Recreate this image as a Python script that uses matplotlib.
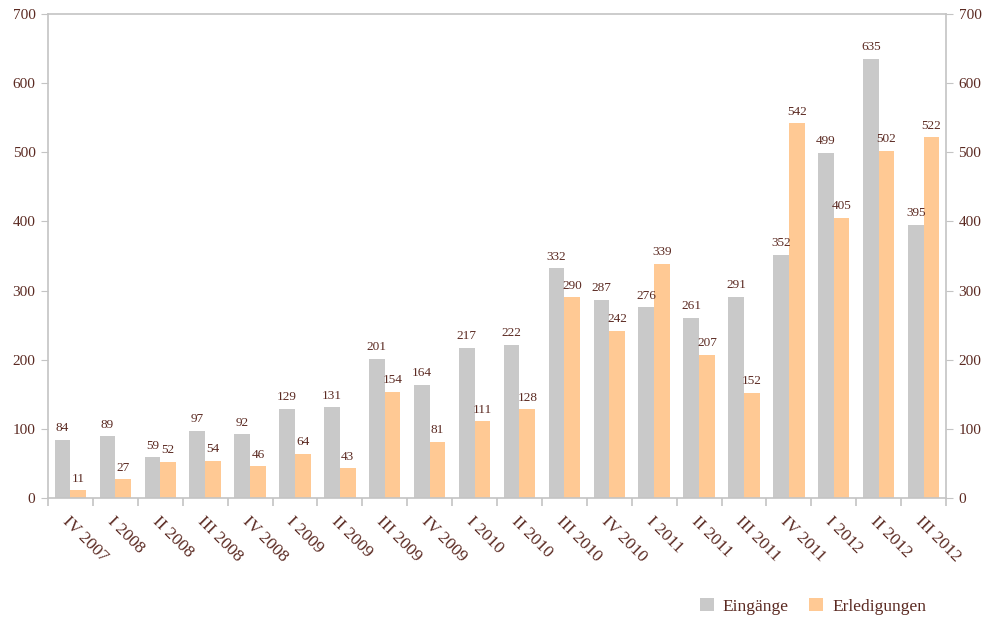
import matplotlib.pyplot as plt
import numpy as np

quarters = ['IV 2007', 'I 2008', 'II 2008', 'III 2008', 'IV 2008', 'I 2009', 'II 2009',
            'III 2009', 'IV 2009', 'I 2010', 'II 2010', 'III 2010', 'IV 2010', 'I 2011',
            'II 2011', 'III 2011', 'IV 2011', 'I 2012', 'II 2012', 'III 2012']
eingaenge = [84, 89, 59, 97, 92, 129, 131, 201, 164, 217, 222, 332, 287, 276, 261, 291, 352, 499, 635, 395]
erledigungen = [11, 27, 52, 54, 46, 64, 43, 154, 81, 111, 128, 290, 242, 339, 207, 152, 542, 405, 502, 522]

txt = '#5b2a22'
grey = '#c9c9c9'
orange = '#ffc994'
spine = '#c4c4c4'

plt.rcParams['font.family'] = ['Liberation Serif', 'DejaVu Serif']

fig = plt.figure(figsize=(9.86, 6.19), dpi=100)
ax = fig.add_axes([48/986, 121/619, 898/986, 484/619])

x = np.arange(len(quarters))
w = 0.35
b1 = ax.bar(x - w/2, eingaenge, w, color=grey, label='Eingänge')
b2 = ax.bar(x + w/2, erledigungen, w, color=orange, label='Erledigungen')

for bars, vals in ((b1, eingaenge), (b2, erledigungen)):
    for r, v in zip(bars, vals):
        ax.annotate(str(v), (r.get_x() + r.get_width()/2, v), xytext=(0, 4),
                    textcoords='offset points', ha='center', va='bottom',
                    fontsize=9.5, color=txt)

ax.set_xlim(-0.5, len(quarters) - 0.5)
ax.set_ylim(0, 700)
ax.set_yticks(range(0, 701, 100))
ax.tick_params(axis='y', which='both', left=True, right=True, labelleft=True, labelright=True,
               length=5, color=spine, labelcolor=txt, labelsize=11, pad=4)

ax.set_xticks(x)
ax.set_xticklabels(quarters, rotation=-45, ha='left', va='top', rotation_mode='anchor',
                   fontsize=12.5, color=txt)
ax.tick_params(axis='x', which='major', length=0, pad=11)
ax.set_xticks(np.arange(-0.5, len(quarters) + 0.5, 1), minor=True)
ax.tick_params(axis='x', which='minor', length=6, color=spine, width=1.2)

for s in ax.spines.values():
    s.set_color(spine)
    s.set_linewidth(1.2)

leg = fig.legend(handles=[b1, b2], loc='lower right', bbox_to_anchor=(0.955, -0.018),
                 ncol=2, frameon=False, fontsize=12.5, handlelength=0.8, handleheight=0.8,
                 handletextpad=0.5, columnspacing=1.2)
for t in leg.get_texts():
    t.set_color(txt)

plt.savefig('out.png', dpi=100)
